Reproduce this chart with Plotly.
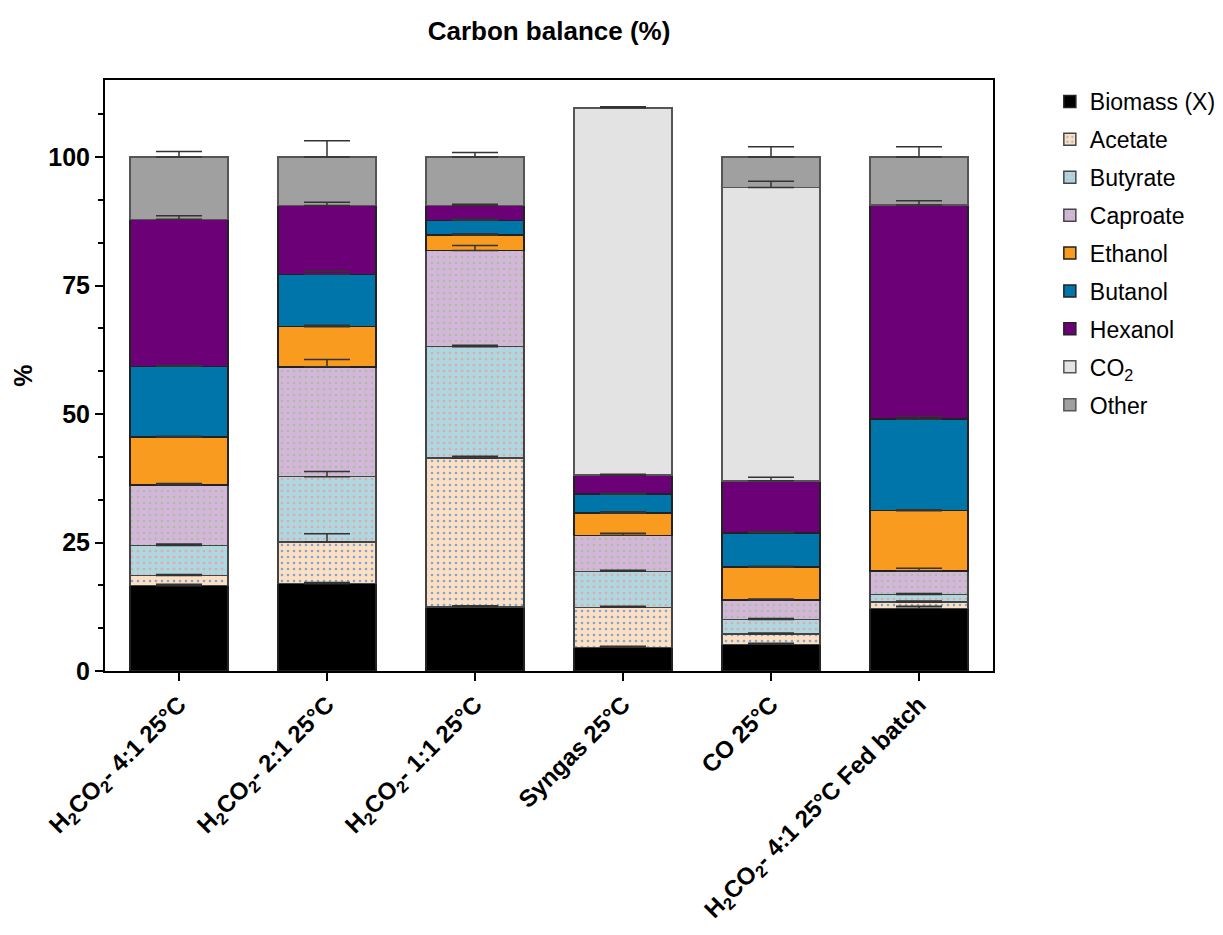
import plotly.graph_objects as go

categories = [
    "<b>H<sub>2</sub>CO<sub>2</sub>- 4:1 25°C</b>",
    "<b>H<sub>2</sub>CO<sub>2</sub>- 2:1 25°C</b>",
    "<b>H<sub>2</sub>CO<sub>2</sub>- 1:1 25°C</b>",
    "<b>Syngas 25°C</b>",
    "<b>CO 25°C</b>",
    "<b>H<sub>2</sub>CO<sub>2</sub>- 4:1 25°C Fed batch</b>",
]

series_names = ["Biomass (X)", "Acetate", "Butyrate", "Caproate", "Ethanol",
                "Butanol", "Hexanol", "CO<sub>2</sub>", "Other"]

biomass = [16.6, 17.0, 12.5, 4.6, 5.2, 12.2]
acetate = [2.0, 8.1, 28.9, 7.8, 2.0, 1.2]
butyrate = [5.8, 12.7, 21.7, 7.0, 2.8, 1.5]
caproate = [11.8, 21.4, 18.7, 7.0, 3.8, 4.6]
ethanol = [9.3, 7.8, 3.0, 4.3, 6.4, 11.7]
butanol = [13.8, 10.2, 2.9, 3.7, 6.7, 17.8]
hexanol = [28.6, 13.4, 2.9, 3.7, 10.1, 41.7]
co2 = [None, None, None, 71.5, 57.1, None]
other = [12.1, 9.4, 9.4, None, 5.9, 9.3]

biomass_err = [0.3, 0.2, 0.2, 0.2, 0.2, 0.4]
acetate_err = [0.2, 1.6, 0.4, 0.2, 0.2, 0.2]
butyrate_err = [0.3, 1.0, 0.3, 0.2, 0.2, 0.2]
caproate_err = [0.3, 1.4, 1.0, 0.4, 0.2, 0.5]
ethanol_err = [0.2, 0.3, 0.3, 0.3, 0.2, 0.2]
butanol_err = [0.2, 0.6, 0.2, 0.2, 0.2, 0.5]
hexanol_err = [0.7, 0.6, 0.2, 0.2, 0.7, 0.8]
co2_err = [None, None, None, 0.2, 1.2, None]
other_err = [1.1, 3.2, 0.9, None, 2.0, 2.0]

values = [biomass, acetate, butyrate, caproate, ethanol, butanol, hexanol, co2, other]
errors = [biomass_err, acetate_err, butyrate_err, caproate_err, ethanol_err,
          butanol_err, hexanol_err, co2_err, other_err]

fill_colors = ["#000000", "#FDDFC2", "#ADD8E2", "#D5B6DB", "#F99B1E",
               "#0075AA", "#6B0077", "#E3E3E3", "#A0A0A0"]
dot_colors = [None, "#7FA6D8", "#E6A6A6", "#A9BFA0", None, None, None, None, None]
line_colors = ["#222222", "#444444", "#444444", "#444444", "#222222",
               "#222222", "#222222", "#555555", "#555555"]

FONT = "Liberation Sans, Arial, sans-serif"

fig = go.Figure()
for i, name in enumerate(series_names):
    marker = dict(color=fill_colors[i], line=dict(color=line_colors[i], width=1.5))
    if dot_colors[i]:
        marker["pattern"] = dict(shape=".", fgcolor=dot_colors[i], bgcolor=fill_colors[i],
                                 size=6, solidity=0.15, fillmode="replace")
    fig.add_trace(go.Bar(
        x=categories, y=values[i], name=name, marker=marker,
        legendgroup=f"g{i}",
    ))

# error bars drawn on top of all bars, at the top of each stacked segment
running = [0.0] * len(categories)
for i, name in enumerate(series_names):
    tops, errs = [], []
    for j in range(len(categories)):
        v = values[i][j]
        if v is None:
            tops.append(None)
            errs.append(None)
        else:
            running[j] += v
            tops.append(running[j])
            errs.append(errors[i][j])
    fig.add_trace(go.Scatter(
        x=categories, y=tops, mode="markers", showlegend=False, hoverinfo="skip",
        legendgroup=f"g{i}",
        marker=dict(size=1, color="rgba(0,0,0,0)"),
        error_y=dict(type="data", array=errs, arrayminus=[0] * len(categories),
                     symmetric=False, color="#333333", thickness=1.5, width=23),
    ))

W, H = 1215, 919
L, T, PW, PH = 97, 72, 888, 591
fig.update_layout(
    width=W, height=H,
    barmode="stack", bargap=0.34,
    plot_bgcolor="white", paper_bgcolor="white",
    margin=dict(l=L, r=W - L - PW, t=T, b=H - T - PH, autoexpand=False),
    title=dict(text="Carbon balance (%)", x=(L + PW / 2) / W, xanchor="center",
               y=1 - 23 / H, yanchor="middle",
               font=dict(family=FONT, size=26, color="black", weight="bold")),
    font=dict(family=FONT, color="black"),
    legend=dict(x=1.064, y=1.0, xanchor="left", yanchor="top",
                traceorder="grouped", tracegroupgap=5,
                font=dict(family=FONT, size=23, color="black")),
    showlegend=True,
)

fig.update_yaxes(
    range=[0, 115], tickvals=[0, 25, 50, 75, 100], automargin=False,
    showgrid=False, zeroline=False,
    showline=True, linecolor="black", linewidth=2, mirror=True,
    ticks="outside", ticklen=8, tickwidth=2, tickcolor="black",
    minor=dict(dtick=25 / 3, tick0=0, ticks="outside", ticklen=5, tickwidth=2, tickcolor="black"),
    tickfont=dict(family=FONT, size=25, color="black", weight="bold"),
    title=dict(text="%", font=dict(family=FONT, size=25, color="black", weight="bold"), standoff=9),
)
fig.update_xaxes(
    showgrid=False, showline=True, linecolor="black", linewidth=2, mirror=True, automargin=False,
    ticks="outside", ticklen=8, tickwidth=2, tickcolor="black",
    tickangle=-45,
    tickfont=dict(family=FONT, size=24, color="black"),
)

fig.write_html("out.html")
